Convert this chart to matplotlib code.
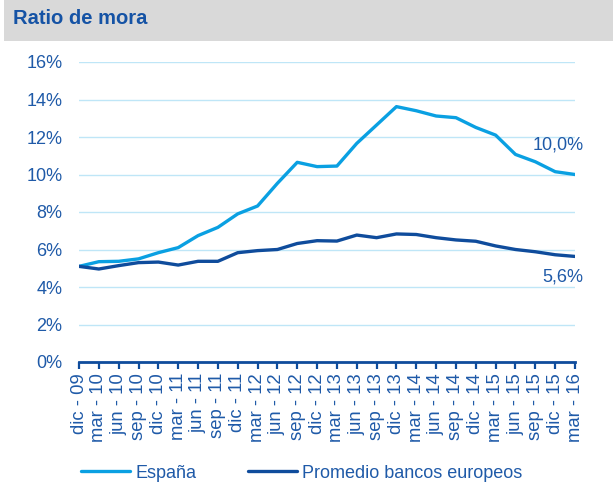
import numpy as np
import matplotlib
matplotlib.use("Agg")
from matplotlib import pyplot as plt
from matplotlib.patches import Rectangle

plt.rcParams['font.family'] = ['Liberation Sans', 'DejaVu Sans']

# quarterly dates
labels = ["dic - 09",
          "mar - 10", "jun - 10", "sep - 10", "dic - 10",
          "mar - 11", "jun - 11", "sep - 11", "dic - 11",
          "mar - 12", "jun - 12", "sep - 12", "dic - 12",
          "mar - 13", "jun - 13", "sep - 13", "dic - 13",
          "mar - 14", "jun - 14", "sep - 14", "dic - 14",
          "mar - 15", "jun - 15", "sep - 15", "dic - 15",
          "mar - 16"]
espana = [5.1, 5.35, 5.37, 5.5, 5.83, 6.1, 6.74, 7.18, 7.9, 8.32, 9.53, 10.65,
          10.42, 10.45, 11.66, 12.64, 13.62, 13.4, 13.12, 13.03, 12.51, 12.1,
          11.07, 10.68, 10.15, 10.0]
europa = [5.1, 4.96, 5.14, 5.3, 5.33, 5.17, 5.37, 5.37, 5.83, 5.94, 6.0, 6.32,
          6.47, 6.45, 6.77, 6.63, 6.83, 6.8, 6.63, 6.51, 6.44, 6.19, 6.0, 5.88,
          5.72, 5.63]
yticks = [0, 2, 4, 6, 8, 10, 12, 14, 16]

c_esp = '#0aa0e2'
c_eur = '#0f4c9c'
c_txt = '#1f5aa8'

fig = plt.figure(figsize=(6.13, 4.91), dpi=100)

# title bar
fig.patches.append(Rectangle((4/613, 1-41/491), 609/613, 41/491, transform=fig.transFigure,
                             facecolor='#d9d9d9', edgecolor='none', zorder=0))
fig.text(13/613, 1-18/491, "Ratio de mora", fontsize=14.5, fontweight='bold',
         color='#1553a5', va='center', ha='left')

ax = fig.add_axes([79/613, 1-362/491, 496/613, 300/491])
x = np.arange(len(labels))
ax.plot(x, espana, color=c_esp, lw=2.4, label="España", solid_capstyle='round')
ax.plot(x, europa, color=c_eur, lw=2.4, label="Promedio bancos europeos", solid_capstyle='round')

ax.set_xlim(0, len(labels) - 1)
ax.set_ylim(0, 16)
ax.set_yticks(yticks)
ax.set_yticklabels([f"{v}%" for v in yticks])
ax.set_xticks(x)
ax.set_xticklabels(labels, rotation=90)
ax.tick_params(axis='y', length=0, labelsize=13, labelcolor=c_txt, pad=12)
ax.tick_params(axis='x', length=5, width=1.6, color=c_eur, labelsize=13.3,
               labelcolor=c_txt, pad=3)
ax.grid(axis='y', color='#bfe6f7', lw=1)
ax.set_axisbelow(True)
for s in ['top', 'right', 'left']:
    ax.spines[s].set_visible(False)
ax.spines['bottom'].set_color(c_eur)
ax.spines['bottom'].set_linewidth(2)

ax.annotate("10,0%", (x[-1], espana[-1]), xytext=(6, 21), textcoords='offset points',
            ha='right', va='center', fontsize=13, color=c_txt)
ax.annotate("5,6%", (x[-1], europa[-1]), xytext=(6, -15), textcoords='offset points',
            ha='right', va='center', fontsize=13, color=c_txt)

leg = fig.legend(loc='center left', bbox_to_anchor=(65/613, 1-473/491), ncol=2, frameon=False,
                 fontsize=13, handlelength=2.7, handletextpad=0.28, columnspacing=2.9)
for t in leg.get_texts():
    t.set_color(c_txt)

fig.savefig("out.png", dpi=100)
